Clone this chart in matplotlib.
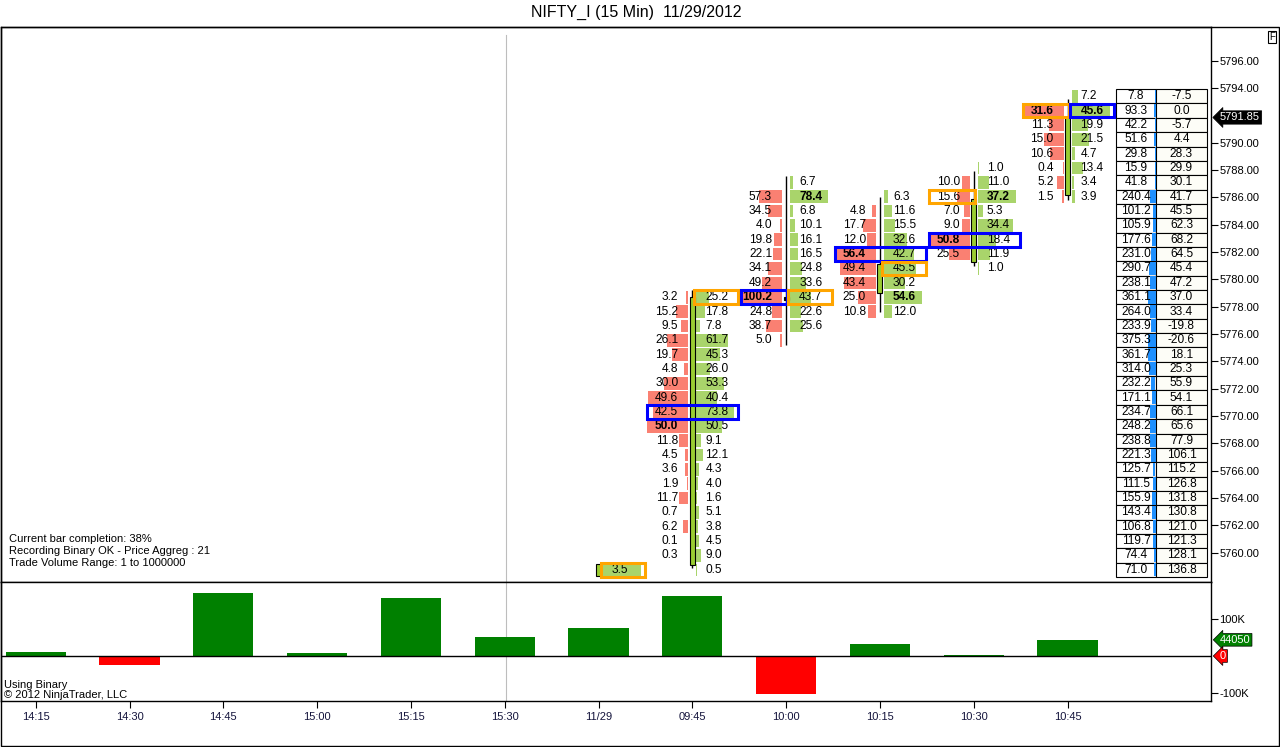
import matplotlib
matplotlib.use('Agg')
import matplotlib.pyplot as plt
from matplotlib.patches import Rectangle
import numpy as np

plt.rcParams['font.family'] = ['Liberation Sans', 'DejaVu Sans']

# ---------------- data ----------------
title = 'NIFTY_I (15 Min)  11/29/2012'
time_labels = ['14:15', '14:30', '14:45', '15:00', '15:15', '15:30',
               '11/29', '09:45', '10:00', '10:15', '10:30', '10:45']
bar_delta = [12000, -25600, 171700, 8000, 158000, 52000,
             77000, 163500, -102700, 32700, 3000, 44050]

row_base = 5758.75      # price of lowest footprint row
row_step = 1.05         # price aggregation (21 ticks of 0.05)

fp_bars = [6, 7, 8, 9, 10, 11]
bid_top = [0, 19, 26, 25, 27, 32]
bid_vals = [
    [],
    [3.2, 15.2, 9.5, 26.1, 19.7, 4.8, 30.0, 49.6, 42.5, 50.0,
     11.8, 4.5, 3.6, 1.9, 11.7, 0.7, 6.2, 0.1, 0.3],
    [57.3, 34.5, 4.0, 19.8, 22.1, 34.1, 49.2, 100.2, 24.8, 38.7, 5.0],
    [4.8, 17.7, 12.0, 56.4, 49.4, 43.4, 25.0, 10.8],
    [10.0, 15.6, 7.0, 9.0, 50.8, 25.5],
    [31.6, 11.3, 15.0, 10.6, 0.4, 5.2, 1.5],
]
ask_top = [0, 19, 27, 26, 28, 33]
ask_vals = [
    [3.5],
    [25.2, 17.8, 7.8, 61.7, 45.3, 26.0, 53.3, 40.4, 73.8, 50.5,
     9.1, 12.1, 4.3, 4.0, 1.6, 5.1, 3.8, 4.5, 9.0, 0.5],
    [6.7, 78.4, 6.8, 10.1, 16.1, 16.5, 24.8, 33.6, 43.7, 22.6, 25.6],
    [6.3, 11.6, 15.5, 32.6, 42.7, 45.5, 30.2, 54.6, 12.0],
    [1.0, 11.0, 37.2, 5.3, 34.4, 18.4, 11.9, 1.0],
    [7.2, 45.6, 19.9, 21.5, 4.7, 13.4, 3.4, 3.9],
]
bold_cells = [(7, 'bid', 10), (8, 'bid', 19), (8, 'ask', 26), (9, 'bid', 22),
              (9, 'ask', 19), (10, 'ask', 26), (10, 'bid', 23),
              (11, 'bid', 32), (11, 'ask', 32)]
# highlight boxes: (bar, row, side, colour)
boxes = [(6, 0, 'ask', 'orange'), (7, 11, 'both', 'blue'), (7, 19, 'ask', 'orange'),
         (8, 19, 'bid', 'blue'), (8, 19, 'ask', 'orange'),
         (9, 22, 'both', 'blue'), (9, 21, 'ask', 'orange'),
         (10, 23, 'both', 'blue'), (10, 26, 'bid', 'orange'),
         (11, 32, 'bid', 'orange'), (11, 32, 'ask', 'blue')]

c_open = [5758.3, 5759.1, 5778.7, 5779.0, 5781.3, 5786.2]
c_high = [5759.2, 5779.2, 5787.6, 5786.0, 5787.9, 5793.2]
c_low = [5758.3, 5758.9, 5775.2, 5777.6, 5781.0, 5785.8]
c_close = [5759.2, 5778.7, 5778.5, 5781.1, 5785.9, 5791.85]

# right-hand profile table, top row (index 33) to bottom row (index 0)
prof_vol = [7.8, 93.3, 42.2, 51.6, 29.8, 15.9, 41.8, 240.4, 101.2, 105.9, 177.6,
            231.0, 290.7, 238.1, 361.1, 264.0, 233.9, 375.3, 361.7, 314.0, 232.2,
            171.1, 234.7, 248.2, 238.8, 221.3, 125.7, 111.5, 155.9, 143.4, 106.8,
            119.7, 74.4, 71.0]
prof_delta = [-7.5, 0.0, -5.7, 4.4, 28.3, 29.9, 30.1, 41.7, 45.5, 62.3, 68.2,
              64.5, 45.4, 47.2, 37.0, 33.4, -19.8, -20.6, 18.1, 25.3, 55.9,
              54.1, 66.1, 65.6, 77.9, 106.1, 115.2, 126.8, 131.8, 130.8, 121.0,
              121.3, 128.1, 136.8]

price_ticks = [5760, 5762, 5764, 5766, 5768, 5770, 5772, 5774, 5776, 5778,
               5780, 5782, 5784, 5786, 5788, 5790, 5794, 5796]
last_price = 5791.85
info_lines = ['Current bar completion: 38%',
              'Recording Binary OK - Price Aggreg : 21',
              'Trade Volume Range: 1 to 1000000']

# ---------------- layout ----------------
W, H = 1280, 747
fig = plt.figure(figsize=(W / 100, H / 100), dpi=100)
fig.patch.set_facecolor('white')

def fx(p):
    return p / W

def fy(p):
    return 1 - p / H

ax = fig.add_axes([fx(1), fy(582), fx(1210), (582 - 27) / H])
ax2 = fig.add_axes([fx(1), fy(701), fx(1210), (701 - 582) / H], sharex=ax)

bar_px = 93.8
PX = 1 / bar_px
x_first = 35.7
ax.set_xlim((1 - x_first) / bar_px, (1211 - x_first) / bar_px)
ax.set_ylim(5757.86, 5798.47)
ax2.set_ylim(-122600, 201600)

FS = 8.6
SFS = 8
RED = '#fa8072'
GRN = '#a9d46b'
rh = row_step * 0.88

for j, b in enumerate(fp_bars):
    xc = b
    # candle
    o, h_, l_, c = c_open[j], c_high[j], c_low[j], c_close[j]
    ax.vlines(xc, l_, h_, color='black', lw=1, zorder=4)
    body_c = '#9acd32' if c >= o else 'black'
    ax.add_patch(Rectangle((xc - 2.5 * PX, min(o, c)), 5 * PX, max(abs(c - o), 0.12),
                           fc=body_c, ec='black', lw=0.8, zorder=5))
    # bid side
    bv = bid_vals[j]
    if bv:
        mb = max(bv)
        for i, v in enumerate(bv):
            k = bid_top[j] - i
            y = row_base + row_step * k
            w = v / mb * 41 * PX
            ax.add_patch(Rectangle((xc - 4 * PX - w, y - rh / 2), w, rh,
                                   fc=RED, ec='none', zorder=2))
            fw = 'bold' if (b, 'bid', k) in bold_cells else 'normal'
            ax.text(xc - 14 * PX, y, f'{v:.1f}', ha='right', va='center',
                    fontsize=FS, fontweight=fw, zorder=6)
    av = ask_vals[j]
    ma = max(av)
    for i, v in enumerate(av):
        k = ask_top[j] - i
        y = row_base + row_step * k
        w = v / ma * 38 * PX
        ax.add_patch(Rectangle((xc + 4 * PX, y - rh / 2), w, rh,
                               fc=GRN, ec='none', zorder=2))
        fw = 'bold' if (b, 'ask', k) in bold_cells else 'normal'
        ax.text(xc + 13 * PX, y, f'{v:.1f}', ha='left', va='center',
                fontsize=FS, fontweight=fw, zorder=6)

col_map = {'orange': '#ffa500', 'blue': '#0000ff'}
for b, k, side, col in boxes:
    y = row_base + row_step * k
    if side == 'bid':
        x0, x1 = b - 45 * PX, b + 1 * PX
    elif side == 'ask':
        x0, x1 = b + 2 * PX, b + 46 * PX
    else:
        x0, x1 = b - 45 * PX, b + 46 * PX
    ax.add_patch(Rectangle((x0, y - row_step * 0.47), x1 - x0, row_step * 0.94,
                           fill=False, ec=col_map[col], lw=2.2, zorder=7))

# profile table
last = len(time_labels) - 1
tx0 = last + 48.5 * PX
tx1 = last + 88.5 * PX
tx2 = last + 139.5 * PX
nrow = len(prof_vol)
mv = max(prof_vol)
for i in range(nrow):
    k = nrow - 1 - i
    y = row_base + row_step * k
    yb = y - row_step / 2
    ax.add_patch(Rectangle((tx0, yb), tx1 - tx0, row_step, fc='white',
                           ec='black', lw=0.8, zorder=3))
    ax.add_patch(Rectangle((tx1, yb), tx2 - tx1, row_step, fc='#fdfdf7',
                           ec='black', lw=0.8, zorder=3))
    bw = prof_vol[i] / mv * 8 * PX
    ax.add_patch(Rectangle((tx1 - 0.5 * PX - bw, yb + 0.05), bw, row_step - 0.1,
                           fc='#1e90ff', ec='none', zorder=4))
    ax.text((tx0 + tx1) / 2, y, f'{prof_vol[i]:.1f}', ha='center', va='center',
            fontsize=FS, zorder=6)
    ax.text((tx1 + tx2) / 2, y, f'{prof_delta[i]:.1f}', ha='center', va='center',
            fontsize=FS, zorder=6)

# session line
ax.axvline(5.015, color='#bdbdbd', lw=0.8, ymax=0.985, zorder=1)
ax2.axvline(5.015, color='#bdbdbd', lw=0.8, zorder=1)

# info text
for i, t in enumerate(info_lines):
    ax.text(8 / 1210, (582 - 539 - 12 * i) / 555, t, transform=ax.transAxes,
            fontsize=SFS, ha='left', va='center')

# price axis
ax.yaxis.tick_right()
ax.set_yticks(price_ticks)
ax.set_yticklabels([f'{p:.2f}' for p in price_ticks])
ax.tick_params(axis='y', length=5, width=0.8, pad=1, labelsize=SFS, direction='out')
ax.tick_params(axis='x', bottom=False, labelbottom=False)
for s in ax.spines.values():
    s.set_linewidth(1.0)

ax.text(1.0 + 9 / 1210, last_price, '5791.85', transform=ax.get_yaxis_transform(),
        ha='left', va='center', fontsize=SFS, color='white', clip_on=False, zorder=10,
        bbox=dict(boxstyle='larrow,pad=0.15', fc='black', ec='black', lw=0.5))

# volume panel
xs = np.arange(len(time_labels))
cols = ['#008000' if v >= 0 else '#ff0000' for v in bar_delta]
ax2.bar(xs, bar_delta, width=0.64, color=cols, zorder=2)
ax2.axhline(0, color='black', lw=1, zorder=3)
ax2.yaxis.tick_right()
ax2.set_yticks([-100000, 100000])
ax2.set_yticklabels(['-100K', '100K'])
ax2.tick_params(axis='y', length=5, width=0.8, pad=1, labelsize=SFS)
ax2.set_xticks(xs)
ax2.set_xticklabels(time_labels)
ax2.tick_params(axis='x', length=5, width=0.8, pad=3, labelsize=SFS, labelcolor='#14143c')
for s in ax2.spines.values():
    s.set_linewidth(1.0)
ax2.text(1.0 + 9 / 1210, bar_delta[-1], f'{bar_delta[-1]}', transform=ax2.get_yaxis_transform(),
         ha='left', va='center', fontsize=SFS, color='white', clip_on=False, zorder=10,
         bbox=dict(boxstyle='larrow,pad=0.12', fc='#008000', ec='black', lw=0.5))
ax2.text(1.0 + 9 / 1210, 0, '0', transform=ax2.get_yaxis_transform(),
         ha='left', va='center', fontsize=SFS, color='white', clip_on=False, zorder=10,
         bbox=dict(boxstyle='larrow,pad=0.12', fc='#ff0000', ec='black', lw=0.5))
ax2.text(3 / 1210, (701 - 685) / 119, 'Using Binary', transform=ax2.transAxes,
         fontsize=SFS, ha='left', va='center')
ax2.text(3 / 1210, (701 - 695) / 119, '\u00a9 2012 NinjaTrader, LLC', transform=ax2.transAxes,
         fontsize=SFS, ha='left', va='center')

# outer frame, title, F box
fig.patches.append(Rectangle((fx(0.5), fy(746)), fx(1278), (746 - 27) / H,
                             transform=fig.transFigure, fill=False, ec='black', lw=1.0))
fig.text(fx(636), fy(12), title, ha='center', va='center', fontsize=11.5)
fig.text(fx(1272), fy(37), 'F', ha='center', va='center', fontsize=7,
         bbox=dict(boxstyle='square,pad=0.15', fc='white', ec='black', lw=0.8))

fig.savefig('out.png', dpi=100)
